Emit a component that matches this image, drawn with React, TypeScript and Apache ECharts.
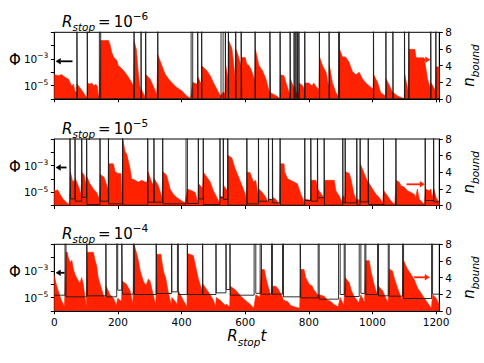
import React, { useEffect, useRef } from 'react';
import * as echarts from 'echarts';

// ---------- data ----------
const T_MAX = 1210;
const X_INTERVAL = 200;
const PHI_EXP_MIN = -6;
const PHI_EXP_MAX = -1;
const PHI_LABELED: Record<number, string> = { [-3]: '−3', [-5]: '−5' };
const N_MAX = 8;
const N_INTERVAL = 2;
const R_STOP_EXPONENTS = ['−6', '−5', '−4'];

// panel 1 : R_stop = 1e-6  (events = [start, end] of n_bound excursions)
const events1 = [[71, 72], [103.5, 104.5], [141.6, 145.8], [250.5, 251.5], [272.5, 273.5], [287, 288], [325, 326], [430, 435], [450.5, 451.5], [463, 464], [524, 530.5], [537.5, 538.5], [547, 548], [570, 571], [587, 589], [631, 632], [677.3, 679.4], [709.5, 710.5], [741, 742], [753.5, 754.5], [759, 760], [763.5, 764.5], [768.5, 769.6], [787, 788], [833, 834], [863.5, 864.5], [893.3, 896.4], [1003, 1004], [1042, 1043], [1064, 1065], [1100.5, 1101.5], [1114, 1115], [1183, 1184], [1199, 1200]];
const base1 = [0, 0, 0, 0, 0, 0, 0, 0, 0, 0, 0, 0, 0, 0, 0, 0, 0, 0, 0, 0, 0, 0, 0, 0, 0, 0, 0, 0, 0, 0, 0, 0, 0, 0, 0];
// [t, log10(Phi)]
const phi1 = [
  [0, -4.18], [12.7, -4.26], [23, -4.18], [33.7, -4.38], [44, -4.51], [49.4, -4.77], [54.6, -5.03], [60, -4.9], [65, -5.41], [70.4, -5.54],
  [72, -4.9], [80, -5.15], [88, -5.41], [95, -5.67], [103, -5.92],
  [104.5, -4.82], [112, -4.9], [118, -4.82], [125, -5.03], [130, -4.9], [135, -5.03], [138, -5.67], [141, -5.79],
  [146, -1.62], [170, -1.62], [175, -1.9], [180, -2.46], [186, -2.85], [196, -3.1], [201, -3.49], [212, -3.74], [222, -4.0], [233, -4.38], [243, -4.77], [249, -5.03],
  [251.5, -1.7], [258, -2.3], [263, -3.8], [268, -4.9], [272, -5.5],
  [273.5, -5.3], [280, -5.6], [287, -5.9],
  [288, -4.18], [301, -4.51], [311, -5.03], [322, -5.67],
  [326, -2.72], [338, -3.49], [348, -4.13], [359, -4.51], [374, -4.9], [385, -5.15], [401, -5.41], [416, -5.79], [428, -5.98],
  [435.2, -4.77], [450, -4.9],
  [451.5, -4.38], [462, -4.9],
  [464, -3.54], [479, -3.87], [490, -4.26], [500, -4.77], [511, -5.28], [522, -5.79],
  [530.6, -5.5], [537, -5.6],
  [538.5, -3.49], [546, -4.5],
  [548, -1.62], [558, -2.2], [563, -3.23], [569, -4.51],
  [571, -2.3], [576, -2.6], [581, -3.0], [586, -3.5],
  [589, -2.9], [600, -2.9], [605, -3.4], [612, -3.5], [620, -3.9], [630, -4.6],
  [632, -2.28], [643, -3.5], [654, -3.87], [665, -4.5], [676, -5.5],
  [679.4, -5.54], [700, -5.8], [709, -6.0],
  [710.5, -4.2], [722, -4.26], [728, -4.77], [740, -5.67],
  [742, -4.5], [753, -5.2],
  [754.5, -5.0], [758, -5.3],
  [760, -5.5], [768, -5.6],
  [769.6, -4.82], [780, -5.0], [786, -5.28],
  [788, -4.82], [800, -4.82], [810, -5.03], [815, -4.82], [825, -5.15], [832, -5.28],
  [834, -2.9], [843, -3.5], [854, -4.0], [863, -5.15],
  [864.5, -3.49], [874, -4.77], [885, -5.54], [892, -5.8],
  [896.4, -2.28], [906, -2.85], [915, -2.85], [926, -3.23], [937, -3.95], [948, -4.2], [958, -4.0], [969, -4.51], [979, -4.82], [990, -5.03], [1002, -5.28],
  [1004, -4.2], [1016, -4.77], [1026, -5.54], [1041, -5.79],
  [1043, -4.5], [1063, -5.5],
  [1065, -5.54], [1080, -5.8], [1100, -6.0],
  [1101.5, -4.2], [1113, -5.5],
  [1115, -2.28], [1133, -2.28], [1137, -2.92], [1162, -2.92], [1168, -3.74], [1173, -4.51], [1178, -4.9], [1182, -5.2],
  [1184, -4.8], [1198, -5.4],
  [1200, -3.6], [1210, -3.6],
];

// panel 2 : R_stop = 1e-5
const events2 = [[49, 51], [65, 66], [86, 87], [101.5, 102.5], [143.5, 144.5], [170, 171], [214.5, 215.5], [293.5, 294.5], [313, 314], [340.5, 341.5], [414, 418.4], [452.5, 453.5], [468, 469], [520.5, 521.5], [531, 532], [545, 546], [605, 606], [641.5, 642.5], [673, 674], [685.5, 686.5], [709.5, 710.5], [787, 788], [806, 807], [827, 828], [848, 849], [906.5, 907.5], [914, 915], [950.5, 951.5], [961, 962], [986.5, 987.5], [1034.5, 1035.5], [1073.5, 1074.5], [1165.5, 1166.5], [1192, 1193]];
const base2 = [0, 0.8, 0.52, 1.0, 0.12, 0.52, 0.2, 0.04, 0.4, 0.4, 0.2, 0.24, 0.8, 0.12, 0.93, 0.73, 0.04, 0.2, 0.52, 0.73, 0.32, 0.04, 0.6, 0.52, 0.93, 0.04, 0.32, 0.32, 0.04, 0.44, 0.12, 0.04, 0.04, 0.6, 0.44];
const phi2 = [
  [0, -4.81], [5, -4.9], [10, -4.81], [15, -5.0], [18, -5.15], [28, -5.53], [39, -5.79], [47, -5.92],
  [51, -3.51], [58, -4.24], [62, -4.11], [64.5, -4.5],
  [66, -3.98], [75, -4.5], [84, -5.15],
  [87, -3.51], [94, -3.72], [99, -4.37],
  [102.5, -3.85], [112, -4.37], [123, -4.76], [133, -5.02], [142, -5.53],
  [144.5, -3.67], [156, -3.85], [165, -4.5], [169, -4.7],
  [171, -2.87], [186, -2.87], [191, -3.46], [201, -3.59], [209, -3.59], [213, -5.27],
  [215.5, -1.0], [222, -1.91], [228, -2.17], [238, -3.2], [243, -3.98], [254, -4.11], [264, -4.24], [275, -4.11], [285, -4.24], [292, -4.24],
  [294.5, -3.46], [306, -4.24], [312, -4.5],
  [314, -3.98], [327, -4.5], [338, -5.4],
  [341.5, -3.46], [353, -3.72], [364, -4.76], [374, -5.15], [385, -5.4], [401, -5.66], [411, -5.79],
  [418.4, -4.76], [432, -4.89], [443, -5.02], [451, -5.79],
  [453.5, -4.37], [466, -4.7],
  [469, -3.51], [479, -3.85], [490, -4.24], [500, -4.89], [511, -5.4], [519, -5.79],
  [521.5, -5.27], [530, -5.4],
  [532, -4.5], [544, -4.9],
  [546, -2.22], [558, -2.42], [568, -3.2], [579, -3.85], [590, -4.5], [600, -5.15], [604, -5.6],
  [606, -3.51], [615, -3.51], [620, -3.85], [626, -4.24], [633, -4.11], [640, -5.15],
  [642.5, -4.76], [654, -5.02], [665, -5.4], [672, -5.79],
  [674, -5.53], [685, -5.6],
  [686.5, -5.4], [696, -5.53], [707, -5.92],
  [710.5, -2.87], [722, -2.87], [724, -3.46], [733, -3.98], [743, -4.11], [754, -4.24], [764, -4.37], [775, -5.15], [786, -5.79],
  [788, -5.53], [805, -5.6],
  [807, -4.11], [822, -4.11], [826, -4.5],
  [828, -4.76], [843, -5.27], [847, -5.5],
  [849, -4.11], [880, -4.11], [885, -4.89], [895, -5.27], [905, -5.79],
  [907.5, -5.27], [913, -5.4],
  [915, -3.46], [927, -3.59], [932, -3.98], [942, -5.15], [950, -5.66],
  [951.5, -5.53], [960, -5.6],
  [962, -2.87], [974, -3.59], [985, -4.24],
  [987.5, -4.24], [1000, -4.76], [1011, -5.15], [1021, -5.4], [1032, -5.79],
  [1035.5, -4.89], [1047, -5.27], [1058, -5.66], [1070, -5.92],
  [1074.5, -4.11], [1084, -4.24], [1089, -4.5], [1100, -4.63], [1110, -4.89], [1121, -5.02], [1131, -5.15], [1136, -5.4], [1141, -4.76], [1147, -5.53], [1163, -5.92],
  [1166.5, -4.76], [1178, -4.89], [1183, -4.76], [1188, -5.4],
  [1193, -4.76], [1200, -5.4], [1210, -5.79],
];

// panel 3 : R_stop = 1e-4
const events3 = [[33.7, 36.8], [101.8, 103.9], [162, 163], [196.2, 199.3], [211.9, 214], [248.6, 251.7], [319.9, 322], [368.6, 369.6], [387, 390], [418, 419], [466, 467], [508, 509], [539.5, 540.5], [552, 553], [628, 633.3], [646.9, 651.1], [682.6, 685.7], [717.2, 720.3], [772.7, 774.8], [829.3, 832.5], [893.3, 898.5], [911.1, 914.2], [958.3, 963.5], [976.1, 979.2], [1015.9, 1019], [1049.5, 1052.6], [1094.5, 1097.7], [1185.7, 1188.9]];
const base3 = [1.88, 1.68, 1.8, 1.68, 2.48, 2.0, 1.96, 2.08, 2.28, 1.96, 1.96, 1.96, 2.16, 2.56, 1.88, 2.1, 2.0, 2.0, 1.68, 1.56, 1.4, 1.96, 1.72, 2.1, 1.96, 1.8, 1.76, 1.48, 2.0];
const phi3 = [
  [0, -3.3], [5, -3.9], [12, -4.5], [22, -5.2], [32, -5.7],
  [36.8, -1.6], [41, -1.6], [44, -2.0], [50, -2.36], [55, -2.2], [60, -2.87], [65, -3.26], [70, -3.5], [76, -3.77], [81, -3.9], [86, -3.5], [91, -4.0], [96, -4.9], [101, -5.7],
  [103.9, -1.6], [123, -1.6], [128, -2.2], [133, -2.6], [138, -3.5], [144, -4.0], [149, -4.4], [154, -4.8], [161, -5.05],
  [163, -4.15], [175, -4.8], [186, -5.05], [195, -5.6],
  [199.3, -5.05], [211, -5.3],
  [214, -3.77], [227, -4.0], [238, -4.5], [247, -5.5],
  [251.7, -1.1], [259, -1.7], [264, -2.2], [270, -3.0], [280, -3.77], [285, -4.0], [290, -4.0], [296, -3.6], [301, -3.77], [306, -4.3], [316, -5.3], [319, -5.6],
  [322, -1.75], [335, -1.75], [340, -2.6], [345, -3.2], [350, -3.5], [355, -4.2], [360, -4.8], [367, -5.5],
  [369.6, -5.0], [380, -5.3], [386, -5.5],
  [390, -4.5], [405, -5.2], [417, -5.7],
  [419, -1.7], [437, -1.85], [443, -2.5], [448, -3.1], [453, -3.6], [458, -4.0], [465, -4.5],
  [467, -4.0], [479, -4.4], [490, -4.8], [500, -5.2], [507, -5.7],
  [509, -5.0], [521, -5.2], [538, -5.6],
  [540.5, -5.5], [551, -5.7],
  [553, -4.15], [568, -4.4], [579, -4.7], [590, -5.0], [600, -5.2], [615, -5.5], [627, -5.8],
  [633.3, -4.8], [646, -5.0],
  [651.1, -2.9], [660, -2.9], [665, -3.5], [670, -4.0], [681, -4.9],
  [685.7, -4.15], [696, -4.15], [702, -4.3], [716, -4.9],
  [720.3, -5.2], [733, -5.3], [743, -5.6], [754, -5.7], [771, -5.8],
  [774.8, -2.9], [785, -2.9], [790, -3.5], [801, -4.0], [811, -4.15], [815, -4.4], [828, -4.8],
  [832.5, -4.8], [848, -4.9], [859, -5.2], [869, -5.3], [880, -5.55], [892, -5.7],
  [898.5, -5.0], [910, -5.6],
  [914.2, -3.5], [927, -3.9], [934, -4.5], [942, -4.9], [957, -5.4],
  [963.5, -4.8], [975, -5.4],
  [979.2, -2.23], [990, -2.23], [995, -3.0], [1000, -3.5], [1005, -4.0], [1015, -4.8],
  [1019, -4.15], [1032, -4.5], [1042, -5.05], [1049, -5.4],
  [1052.6, -2.87], [1063, -3.0], [1068, -3.5], [1079, -4.3], [1093, -5.2],
  [1097.7, -2.23], [1110, -2.87], [1121, -3.26], [1131, -3.65], [1142, -4.3], [1152, -4.65], [1163, -5.05], [1173, -5.4], [1185, -5.8],
  [1188.9, -4.8], [1200, -5.05], [1210, -5.55],
];

const EVENTS = [events1, events2, events3];
const BASES = [base1, base2, base3];
const PHIS = [phi1, phi2, phi3];

// ---------- layout / style ----------
const RED = '#ff2200';
const FONT = 'DejaVu Sans';
const GRID_LEFT = 54.3;
const GRID_WIDTH = 385;
const GRID_TOPS = [32.3, 139, 244.3];
const GRID_HEIGHT = 66.5;
const SPIKE_TOP = 12; // excursions leave the plotted range (clipped)

function nBoundLine(events: number[][], base: number[]) {
  const pts: number[][] = [[0, base[0]]];
  events.forEach(([s, e], i) => {
    pts.push([s, base[i]], [s, SPIKE_TOP], [e, SPIKE_TOP], [e, base[i + 1]]);
  });
  pts.push([T_MAX, base[base.length - 1]]);
  return pts;
}

const tickRich = {
  a: { fontSize: 10.5, fontFamily: FONT, fontWeight: 'normal', color: '#000', lineHeight: 14 },
  b: { fontSize: 7.5, fontFamily: FONT, fontWeight: 'normal', color: '#000', verticalAlign: 'top', lineHeight: 10 },
};

const mathRich = {
  r: { fontSize: 15, fontFamily: FONT, fontStyle: 'italic', fontWeight: 'normal', color: '#000', lineHeight: 22 },
  s: { fontSize: 10.5, fontFamily: FONT, fontStyle: 'italic', fontWeight: 'normal', color: '#000', verticalAlign: 'bottom', lineHeight: 13 },
  e: { fontSize: 15, fontFamily: FONT, fontWeight: 'normal', color: '#000', lineHeight: 22 },
  p: { fontSize: 10.5, fontFamily: FONT, fontWeight: 'normal', color: '#000', verticalAlign: 'top', lineHeight: 16 },
};

const ARROWS = [
  { from: 72.5, to: 56, y: 61.3, color: '#000' },
  { from: 66.5, to: 56, y: 167.5, color: '#000' },
  { from: 64.5, to: 56, y: 272.8, color: '#000' },
  { from: 420.5, to: 430, y: 59.7, color: RED },
  { from: 406.5, to: 424.5, y: 184.3, color: RED },
  { from: 414, to: 429.5, y: 277.3, color: RED },
];

function arrowGraphics() {
  const out: any[] = [];
  ARROWS.forEach((a) => {
    const dir = a.to > a.from ? 1 : -1;
    const headLen = 4.5;
    const base = a.to - dir * headLen;
    out.push({
      type: 'line', silent: true, z: 100,
      shape: { x1: a.from, y1: a.y, x2: base, y2: a.y },
      style: { stroke: a.color, lineWidth: 1.8 },
    });
    out.push({
      type: 'polygon', silent: true, z: 100,
      shape: { points: [[a.to, a.y], [base, a.y - 2.8], [base, a.y + 2.8]] },
      style: { fill: a.color, stroke: a.color, lineWidth: 0.5 },
    });
  });
  return out;
}

function buildOption() {
  const grid: any[] = [];
  const xAxis: any[] = [];
  const yAxis: any[] = [];
  const series: any[] = [];
  const title: any[] = [];
  const graphic: any[] = [];

  GRID_TOPS.forEach((top, i) => {
    grid.push({
      left: GRID_LEFT, top, width: GRID_WIDTH, height: GRID_HEIGHT,
      show: true, borderColor: '#000', borderWidth: 1, backgroundColor: '#fff', containLabel: false,
    });
    xAxis.push({
      type: 'value', gridIndex: i, min: 0, max: T_MAX, interval: X_INTERVAL,
      axisLine: { show: true, onZero: false, lineStyle: { color: '#000', width: 1 } },
      axisTick: { show: true, inside: false, length: 3.5, lineStyle: { color: '#000', width: 1 } },
      axisLabel: {
        show: i === 2, margin: 6, color: '#000', fontSize: 10.5, fontFamily: FONT,
        showMaxLabel: false, showMinLabel: true,
        formatter: (v: number) => (v <= 1200 ? String(v) : ''),
      },
      splitLine: { show: false },
    });
    yAxis.push({
      type: 'value', gridIndex: i, position: 'left', min: PHI_EXP_MIN, max: PHI_EXP_MAX, interval: 1,
      axisLine: { show: true, onZero: false, lineStyle: { color: '#000', width: 1 } },
      axisTick: { show: true, inside: false, length: 3.5, lineStyle: { color: '#000', width: 1 } },
      axisLabel: {
        show: true, margin: 6, color: '#000',
        formatter: (v: number) => (PHI_LABELED[v] ? `{a|10}{b|${PHI_LABELED[v]}}` : ''),
        rich: tickRich,
      },
      splitLine: { show: false },
    });
    yAxis.push({
      type: 'value', gridIndex: i, position: 'right', min: 0, max: N_MAX, interval: N_INTERVAL,
      axisLine: { show: true, onZero: false, lineStyle: { color: '#000', width: 1 } },
      axisTick: { show: true, inside: false, length: 3.5, lineStyle: { color: '#000', width: 1 } },
      axisLabel: { show: true, margin: 6, color: '#000', fontSize: 10.5, fontFamily: FONT },
      splitLine: { show: false },
    });
    series.push({
      type: 'line', xAxisIndex: i, yAxisIndex: 2 * i, data: PHIS[i],
      symbol: 'none', silent: true, z: 2,
      lineStyle: { color: RED, width: 0.6 },
      areaStyle: { color: RED, opacity: 1, origin: 'start' },
    });
    series.push({
      type: 'line', xAxisIndex: i, yAxisIndex: 2 * i + 1, data: nBoundLine(EVENTS[i], BASES[i]),
      symbol: 'none', silent: true, z: 3,
      lineStyle: { color: '#1a1a1a', width: 0.9 },
    });
    title.push({
      text: `{r|R}{s|stop}{e|\u2009=\u200910}{p|${R_STOP_EXPONENTS[i]}}`,
      left: 62, top: top - 21.5, padding: 0,
      textStyle: { fontWeight: 'normal', rich: mathRich },
    });
    graphic.push({
      type: 'text', x: 15, y: top + 27.5, silent: true,
      style: { text: 'Φ', font: `15px "${FONT}"`, fill: '#000', align: 'center', verticalAlign: 'middle' },
    });
    graphic.push({
      type: 'text', x: 469, y: top + GRID_HEIGHT / 2, rotation: Math.PI / 2, silent: true,
      style: {
        text: '{r|n}{s|bound}', align: 'center', verticalAlign: 'middle',
        rich: mathRich,
      },
    });
  });

  title.push({
    text: '{r|R}{s|stop}{r|t}',
    left: GRID_LEFT + GRID_WIDTH / 2, top: 325, padding: 0, textAlign: 'center',
    textStyle: { fontWeight: 'normal', rich: mathRich },
  });

  graphic.push(...arrowGraphics());

  return {
    animation: false,
    backgroundColor: '#fff',
    textStyle: { fontFamily: FONT },
    grid, xAxis, yAxis, series, title, graphic,
  };
}

export default function App() {
  const ref = useRef<HTMLDivElement>(null);
  useEffect(() => {
    if (!ref.current) return;
    const chart = echarts.init(ref.current, undefined, { renderer: 'svg' });
    chart.setOption(buildOption() as any);
    return () => chart.dispose();
  }, []);
  return <div ref={ref} style={{ width: 484, height: 363, position: 'absolute', left: 0, top: 0 }} />;
}
